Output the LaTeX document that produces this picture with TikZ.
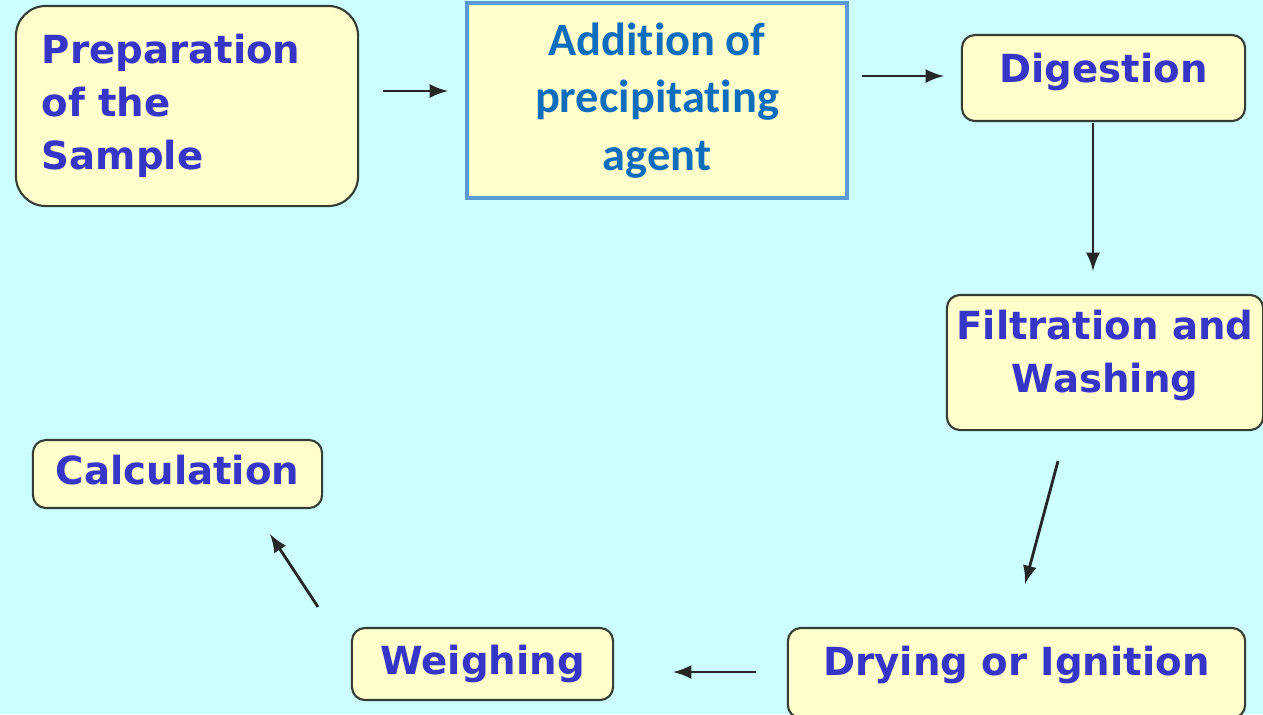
\documentclass[tikz,border=0pt]{standalone}
\usepackage{fontspec}
\setmainfont{DejaVu Sans}
\newfontfamily\calibrifont[Ligatures=NoCommon]{Carlito}
\usepackage{tikz}

\definecolor{bgcyan}{HTML}{CCFFFF}
\definecolor{boxyellow}{HTML}{FFFFCC}
\definecolor{stepblue}{HTML}{3535C8}
\definecolor{addblue}{HTML}{0F6DBE}
\definecolor{addframe}{HTML}{5B9BD5}
\definecolor{framegray}{HTML}{353D35}

\begin{document}
\begin{tikzpicture}[x=0.01cm,y=-0.01cm,
    stepbox/.style={draw=framegray, line width=0.6pt, fill=boxyellow, rounded corners=0.13cm,
        text=stepblue, font=\fontsize{11}{15}\selectfont\bfseries, align=center,
        inner sep=0pt, text height=8pt},
    addbox/.style={draw=addframe, line width=1.1pt, fill=boxyellow, text=addblue,
        font=\calibrifont\fontsize{13.2}{16.4}\selectfont\bfseries, align=center, inner sep=0pt},
    arr/.style={thick, draw=black!85, -latex}]
    \useasboundingbox (0,0) rectangle (1263,714);
    \fill[bgcyan] (0,0) rectangle (1263,714);

    % boxes
    \node[stepbox, rounded corners=0.3cm, minimum width=3.42cm, minimum height=2cm,
          text width=2.9cm, align=left, inner xsep=0.26cm, text height=] (prep) at (187,106)
          {Preparation\\of the\\Sample};
    \node[addbox, minimum width=3.8cm, minimum height=1.95cm] (add) at (657,100.5)
          {Addition of\\precipitating\\agent};
    \node[stepbox, minimum width=2.83cm, minimum height=0.86cm, text depth=5.7pt] (dig) at (1103.5,78) {Digestion};
    \node[stepbox, minimum width=3.16cm, minimum height=1.35cm, text height=] (filt) at (1105,362.5)
          {Filtration and\\Washing\rule[-6.3pt]{0pt}{6.3pt}};
    \node[stepbox, minimum width=4.57cm, minimum height=0.9cm, text depth=6.8pt] (dry) at (1016.5,673) {Drying or Ignition};
    \node[stepbox, minimum width=2.61cm, minimum height=0.72cm, text depth=2.3pt] (weigh) at (482.5,664) {Weighing};
    \node[stepbox, minimum width=2.89cm, minimum height=0.68cm, text depth=2.3pt] (calc) at (177.5,474) {Calculation};

    % arrows
    \draw[arr] ([shift={(24,-15)}]prep.east) -- ([shift={(-17,-9.5)}]add.west);
    \draw[arr] ([shift={(13,-24.5)}]add.east) -- ([shift={(-17,-2)}]dig.west);
    \draw[arr] ([shift={(-10.5,1)}]dig.south) -- ([shift={(-12,-23)}]filt.north);
    \draw[arr] ([shift={(-47,30)}]filt.south) -- ([shift={(8.5,-43)}]dry.north);
    \draw[arr] ([shift={(-31,-1)}]dry.west) -- ([shift={(59,8)}]weigh.east);
    \draw[arr] ([shift={(-164.5,-20)}]weigh.north) -- ([shift={(92.5,25)}]calc.south);
\end{tikzpicture}
\end{document}
